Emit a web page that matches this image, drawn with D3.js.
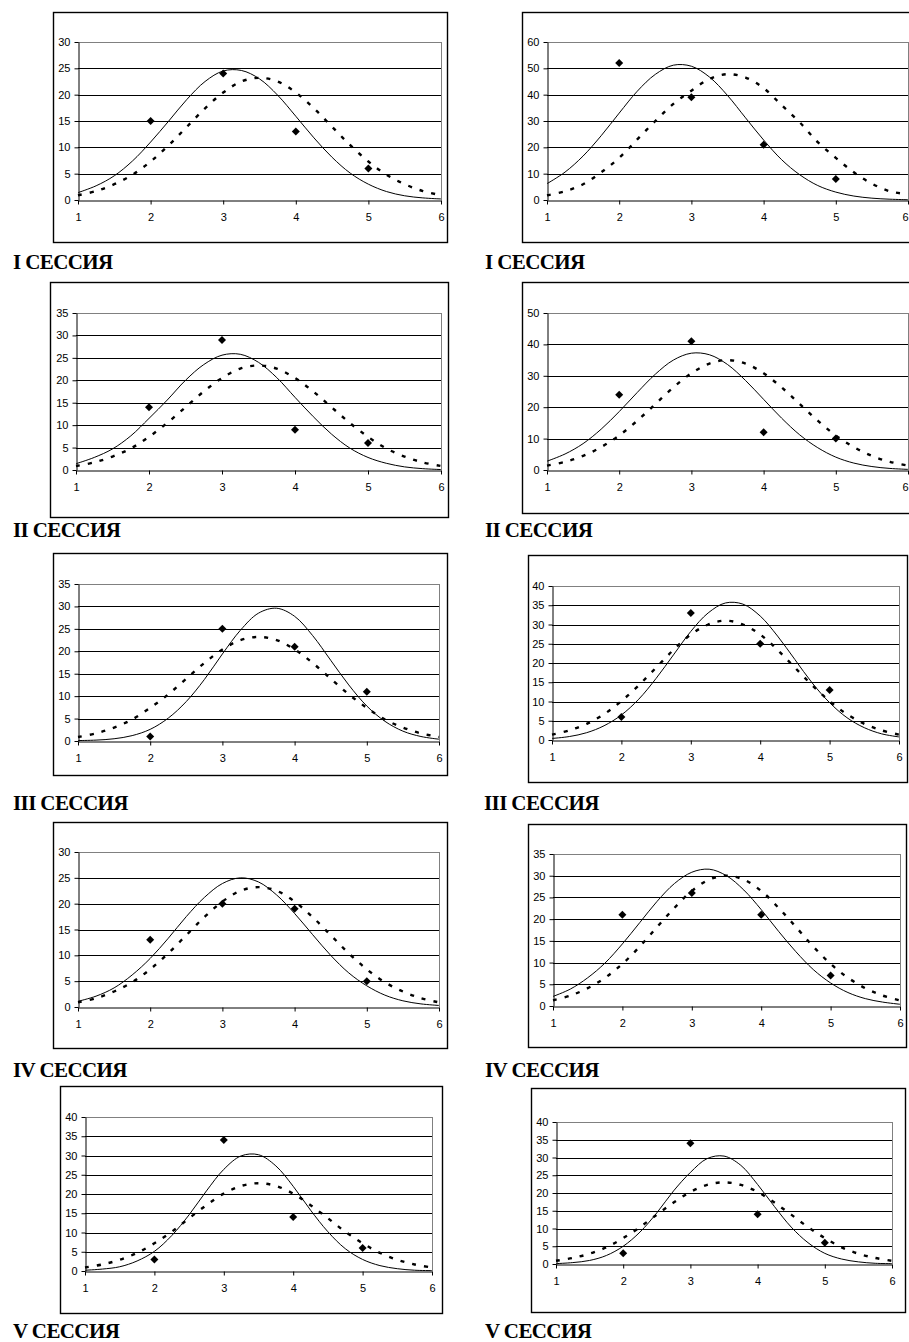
<!DOCTYPE html>
<html>
<head>
<meta charset="utf-8">
<script src="https://cdn.jsdelivr.net/npm/d3@7"></script>
<style>
  body { margin: 0; background: #fff; }
  svg { display: block; }
  .tick text { font-family: "Liberation Sans", Arial, sans-serif; font-size: 11px; fill: #000; }
  .title { font-family: "Liberation Serif", "Times New Roman", serif; font-weight: bold; font-size: 21px; letter-spacing: -0.6px; }
</style>
</head>
<body>
<div id="chart"></div>
<script>
// x positions of the sampled curves and of the observed points
const xTicks = [1, 2, 3, 4, 5, 6];
const pointX = [2, 3, 4, 5];
const curveX = [1, 1.25, 1.5, 1.75, 2, 2.25, 2.5, 2.75, 3, 3.25, 3.5, 3.75, 4, 4.25, 4.5, 4.75, 5, 5.25, 5.5, 5.75, 6];
const sessionTitles = ["I СЕССИЯ", "II СЕССИЯ", "III СЕССИЯ", "IV СЕССИЯ", "V СЕССИЯ"];

// left column
const left1Ticks = [0, 5, 10, 15, 20, 25, 30];
const left1Points = [15, 24, 13, 6];
const left1Solid = [1.4, 2.7, 4.6, 7.4, 11.0, 15.0, 19.1, 22.5, 24.5, 24.6, 23.0, 19.9, 15.9, 11.8, 8.1, 5.1, 3.0, 1.6, 0.8, 0.4, 0.2];
const left1Dashed = [0.9, 1.7, 3.0, 4.8, 7.3, 10.4, 13.9, 17.4, 20.4, 22.5, 23.2, 22.5, 20.4, 17.4, 13.9, 10.4, 7.3, 4.8, 3.0, 1.7, 0.9];

const left2Ticks = [0, 5, 10, 15, 20, 25, 30, 35];
const left2Points = [14, 29, 9, 6];
const left2Solid = [1.4, 2.8, 4.7, 7.6, 11.5, 15.6, 20.0, 23.5, 25.6, 25.8, 24.0, 20.6, 16.2, 11.9, 8.0, 4.9, 2.8, 1.5, 0.7, 0.3, 0.1];
const left2Dashed = [0.9, 1.7, 3.0, 4.8, 7.4, 10.5, 14.0, 17.5, 20.5, 22.6, 23.3, 22.6, 20.5, 17.5, 14.0, 10.5, 7.4, 4.8, 3.0, 1.7, 0.9];

const left3Ticks = [0, 5, 10, 15, 20, 25, 30, 35];
const left3Points = [1, 25, 21, 11];
const left3Solid = [0.1, 0.2, 0.5, 1.2, 2.6, 5.1, 8.8, 13.7, 19.4, 24.7, 28.5, 29.6, 27.8, 23.5, 18.0, 12.5, 7.8, 4.4, 2.2, 1.0, 0.4];
const left3Dashed = [0.9, 1.7, 3.0, 4.8, 7.4, 10.4, 13.9, 17.4, 20.4, 22.5, 23.2, 22.5, 20.4, 17.4, 13.9, 10.4, 7.4, 4.8, 3.0, 1.7, 0.9];

const left4Ticks = [0, 5, 10, 15, 20, 25, 30];
const left4Points = [13, 20, 19, 5];
const left4Solid = [1.1, 2.1, 3.7, 6.2, 9.4, 13.3, 17.5, 21.2, 23.9, 25.0, 24.2, 21.7, 18.1, 14.0, 10.0, 6.6, 4.1, 2.3, 1.2, 0.6, 0.3];
const left4Dashed = [0.9, 1.7, 3.0, 4.8, 7.3, 10.4, 13.9, 17.4, 20.4, 22.5, 23.2, 22.5, 20.4, 17.4, 13.9, 10.4, 7.3, 4.8, 3.0, 1.7, 0.9];

const left5Ticks = [0, 5, 10, 15, 20, 25, 30, 35, 40];
const left5Points = [3, 34, 14, 6];
const left5Solid = [0.2, 0.5, 1.1, 2.6, 5.1, 9.2, 14.6, 20.8, 26.4, 29.9, 30.2, 27.3, 22.0, 15.8, 10.2, 5.8, 3.0, 1.4, 0.6, 0.2, 0.1];
const left5Dashed = [0.9, 1.7, 2.9, 4.7, 7.2, 10.2, 13.7, 17.1, 20.1, 22.1, 22.8, 22.1, 20.1, 17.1, 13.7, 10.2, 7.2, 4.7, 2.9, 1.7, 0.9];

// right column
const right1Ticks = [0, 10, 20, 30, 40, 50, 60];
const right1Points = [52, 39, 21, 8];
const right1Solid = [6.2, 10.6, 16.7, 24.4, 33.0, 41.3, 47.7, 51.2, 50.8, 46.7, 39.7, 31.2, 22.8, 15.3, 9.6, 5.5, 3.0, 1.5, 0.7, 0.3, 0.1];
const right1Dashed = [1.8, 3.3, 6.0, 10.5, 16.0, 23.0, 30.0, 36.5, 41.5, 46.0, 47.8, 46.5, 42.5, 36.0, 29.5, 22.0, 16.0, 10.5, 6.2, 3.3, 2.2];

const right2Ticks = [0, 10, 20, 30, 40, 50];
const right2Points = [24, 41, 12, 10];
const right2Solid = [2.8, 5.1, 8.4, 13.0, 18.6, 24.7, 30.5, 35.0, 37.2, 36.7, 33.6, 28.5, 22.5, 16.5, 11.2, 7.1, 4.1, 2.2, 1.1, 0.5, 0.2];
const right2Dashed = [1.4, 2.6, 4.5, 7.3, 11.0, 15.7, 21.0, 26.3, 30.8, 33.9, 35.0, 33.9, 30.8, 26.3, 21.0, 15.7, 11.0, 7.3, 4.5, 2.6, 1.4];

const right3Ticks = [0, 5, 10, 15, 20, 25, 30, 35, 40];
const right3Points = [6, 33, 25, 13];
const right3Solid = [0.4, 0.9, 1.9, 3.7, 6.5, 10.6, 16.0, 22.1, 28.2, 33.0, 35.6, 35.3, 32.2, 27.0, 20.9, 14.8, 9.7, 5.8, 3.2, 1.6, 0.8];
const right3Dashed = [1.4, 2.5, 4.2, 6.7, 10.1, 14.2, 18.8, 23.4, 27.4, 30.0, 31.0, 30.0, 27.4, 23.4, 18.8, 14.2, 10.1, 6.7, 4.2, 2.5, 1.4];

const right4Ticks = [0, 5, 10, 15, 20, 25, 30, 35];
const right4Points = [21, 26, 21, 7];
const right4Solid = [2.2, 3.9, 6.5, 9.9, 14.3, 19.2, 24.1, 28.2, 30.8, 31.5, 30.0, 26.7, 22.2, 17.2, 12.5, 8.4, 5.3, 3.1, 1.7, 0.9, 0.4];
const right4Dashed = [1.3, 2.4, 4.1, 6.5, 9.7, 13.7, 18.2, 22.6, 26.5, 29.1, 30.0, 29.1, 26.5, 22.6, 18.2, 13.7, 9.7, 6.5, 4.1, 2.4, 1.3];

const right5Ticks = [0, 5, 10, 15, 20, 25, 30, 35, 40];
const right5Points = [3, 34, 14, 6];
const right5Solid = [0.1, 0.4, 1.0, 2.4, 5.0, 9.0, 14.4, 20.6, 25.8, 29.7, 30.4, 27.8, 22.4, 16.2, 10.4, 6.0, 3.0, 1.4, 0.6, 0.2, 0.1];
const right5Dashed = [0.9, 1.7, 2.9, 4.7, 7.3, 10.4, 13.9, 17.3, 20.3, 22.3, 23.0, 22.3, 20.3, 17.3, 13.9, 10.4, 7.3, 4.7, 2.9, 1.7, 0.9];

// layout: frame box, plot box [left, right, top, bottom], title position
const panels = [
  { title: sessionTitles[0], ticks: left1Ticks, points: left1Points, solid: left1Solid, dashed: left1Dashed,
    frame: [53, 12, 394, 230], plot: [78, 441, 42, 200], tx: 13, ty: 269 },
  { title: sessionTitles[0], ticks: right1Ticks, points: right1Points, solid: right1Solid, dashed: right1Dashed,
    frame: [522, 12, 400, 230], plot: [547, 908, 42, 200], tx: 485, ty: 269 },
  { title: sessionTitles[1], ticks: left2Ticks, points: left2Points, solid: left2Solid, dashed: left2Dashed,
    frame: [50, 282, 398, 235], plot: [76, 441, 313, 470], tx: 13, ty: 537 },
  { title: sessionTitles[1], ticks: right2Ticks, points: right2Points, solid: right2Solid, dashed: right2Dashed,
    frame: [522, 282, 400, 231], plot: [547, 908, 313, 470], tx: 485, ty: 537 },
  { title: sessionTitles[2], ticks: left3Ticks, points: left3Points, solid: left3Solid, dashed: left3Dashed,
    frame: [53, 553, 394, 222], plot: [78, 439, 584, 741], tx: 13, ty: 810 },
  { title: sessionTitles[2], ticks: right3Ticks, points: right3Points, solid: right3Solid, dashed: right3Dashed,
    frame: [528, 555, 379, 227], plot: [552, 899, 586, 740], tx: 484, ty: 810 },
  { title: sessionTitles[3], ticks: left4Ticks, points: left4Points, solid: left4Solid, dashed: left4Dashed,
    frame: [53, 822, 394, 226], plot: [78, 439, 852, 1007], tx: 13, ty: 1077 },
  { title: sessionTitles[3], ticks: right4Ticks, points: right4Points, solid: right4Solid, dashed: right4Dashed,
    frame: [528, 824, 378, 223], plot: [553, 900, 854, 1006], tx: 485, ty: 1077 },
  { title: sessionTitles[4], ticks: left5Ticks, points: left5Points, solid: left5Solid, dashed: left5Dashed,
    frame: [60, 1086, 382, 227], plot: [85, 432, 1117, 1271], tx: 13, ty: 1338 },
  { title: sessionTitles[4], ticks: right5Ticks, points: right5Points, solid: right5Solid, dashed: right5Dashed,
    frame: [531, 1088, 374, 224], plot: [556, 892, 1122, 1264], tx: 485, ty: 1338 }
];

const width = 909, height = 1342;

const svg = d3.select("#chart")
  .append("svg")
  .attr("width", width)
  .attr("height", height);

function drawPanel(p) {
  const [fx, fy, fw, fh] = p.frame;
  const [pl, pr, pt, pb] = p.plot;
  const g = svg.append("g");

  // outer chart frame
  g.append("rect")
    .attr("x", fx + 0.5).attr("y", fy + 0.5)
    .attr("width", fw).attr("height", fh)
    .attr("fill", "#fff").attr("stroke", "#000").attr("stroke-width", 1.4);

  const x = d3.scaleLinear().domain([1, 6]).range([pl, pr]);
  const yMax = d3.max(p.ticks);
  const y = d3.scaleLinear().domain([0, yMax]).range([pb, pt]);

  // horizontal gridlines (top one is the grey plot border)
  g.selectAll(".grid")
    .data(p.ticks.filter(t => t > 0))
    .enter().append("line")
    .attr("x1", x(1)).attr("x2", x(6))
    .attr("y1", d => Math.round(y(d)) + 0.5).attr("y2", d => Math.round(y(d)) + 0.5)
    .attr("stroke", d => d === yMax ? "#808080" : "#000")
    .attr("stroke-width", 1);

  // right plot border
  g.append("line")
    .attr("x1", Math.round(x(6)) + 0.5).attr("x2", Math.round(x(6)) + 0.5)
    .attr("y1", y(yMax)).attr("y2", y(0))
    .attr("stroke", "#808080");

  // y axis
  const yAxis = g.append("g")
    .attr("transform", `translate(${Math.round(x(1)) + 0.5},0)`)
    .call(d3.axisLeft(y).tickValues(p.ticks).tickFormat(d3.format("d"))
      .tickSize(4).tickPadding(4).tickSizeOuter(0));
  yAxis.select(".domain").attr("stroke", "#000");

  // x axis
  const xAxis = g.append("g")
    .attr("transform", `translate(0,${Math.round(y(0)) + 0.5})`)
    .call(d3.axisBottom(x).tickValues(xTicks).tickFormat(d3.format("d"))
      .tickSize(4).tickPadding(9).tickSizeOuter(0));
  xAxis.select(".domain").attr("stroke", "#000");
  // keep labels at the picture's right edge inside it
  xAxis.selectAll(".tick text")
    .filter(d => x(d) + 4 > width)
    .attr("text-anchor", "end")
    .attr("x", d => width - 1 - x(d));

  const line = d3.line()
    .x((d, i) => x(curveX[i]))
    .y(d => y(d))
    .curve(d3.curveCatmullRom.alpha(0.5));

  g.append("path")
    .attr("d", line(p.solid))
    .attr("fill", "none").attr("stroke", "#000").attr("stroke-width", 1);

  g.append("path")
    .attr("d", line(p.dashed))
    .attr("fill", "none").attr("stroke", "#000").attr("stroke-width", 2.4)
    .attr("stroke-dasharray", "4,8");

  // observed frequencies as diamonds
  g.selectAll(".pt")
    .data(p.points)
    .enter().append("path")
    .attr("d", d3.symbol(d3.symbolSquare, 32))
    .attr("transform", (d, i) => `translate(${x(pointX[i])},${y(d)}) rotate(45)`)
    .attr("fill", "#000");

  svg.append("text")
    .attr("class", "title")
    .attr("x", p.tx).attr("y", p.ty)
    .text(p.title);
}

panels.forEach(drawPanel);
</script>
</body>
</html>
